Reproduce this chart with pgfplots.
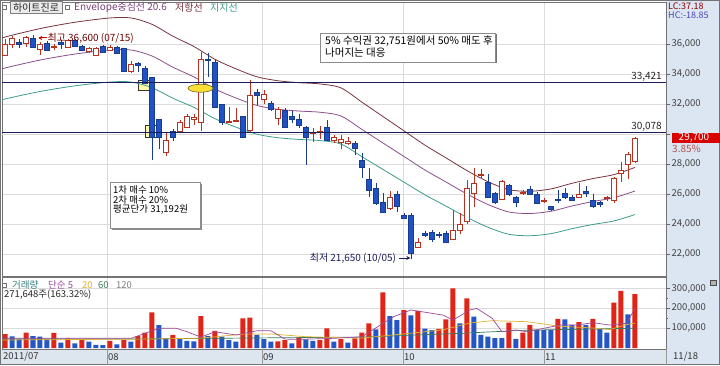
\documentclass[border=0pt]{standalone}
\usepackage{fontspec}
\setmainfont{Noto Sans CJK KR}
\usepackage{pgfplots}
\usepackage{pgfplotstable}
\pgfplotsset{compat=1.18}
\usetikzlibrary{arrows.meta}

\definecolor{cred}{HTML}{B8321F}
\definecolor{cblue}{HTML}{1F52C4}
\definecolor{cbluedk}{HTML}{1A3C8F}
\definecolor{vred}{HTML}{E02418}
\definecolor{vblue}{HTML}{2457C5}
\definecolor{panel}{HTML}{DCE6F2}
\definecolor{strip}{HTML}{DDE5EF}
\definecolor{navy}{HTML}{1C1C5C}
\definecolor{envup}{HTML}{7A3340}
\definecolor{envmid}{HTML}{8E4E8E}
\definecolor{envlo}{HTML}{3E9C8C}
\definecolor{ma5}{HTML}{9A4A9A}
\definecolor{ma20}{HTML}{E0B030}
\definecolor{ma60}{HTML}{3A7A5A}

\pgfplotstableread{
i o h l c
0 35250 36300 35200 35950
1 35950 36500 35700 36400
2 36100 36300 35750 36000
3 36050 36550 35800 36450
4 36400 36600 35700 35800
5 35650 36100 35250 35950
6 36050 36200 35500 35600
7 35750 36000 35600 35850
8 36100 36250 35650 35950
9 35800 36300 35750 36250
10 36250 36300 35800 35850
11 35850 35950 35500 35600
12 35500 35800 35400 35700
13 35250 35800 35200 35700
14 35850 35950 35400 35450
15 35550 35900 35500 35800
16 35750 35850 35350 35400
17 35700 35750 34100 34150
18 34150 34850 34050 34650
19 34700 34800 34100 34550
20 34400 34500 33350 33400
21 33750 33800 28250 29800
22 30950 31000 29000 29800
23 28800 30100 28500 29600
24 30150 30300 29500 29750
25 30150 30900 30050 30800
26 30450 31300 30400 31200
27 31000 31300 30600 31100
28 30800 35450 30200 34950
29 35000 35400 33800 34900
30 34800 34950 31700 31750
31 31950 32000 30600 30750
32 30800 31800 30700 30850
33 30850 31700 30800 30900
34 31150 31200 29700 29800
35 30250 33600 30100 32600
36 32800 33000 31900 32600
37 32300 32900 32000 32650
38 32050 32200 31550 31650
39 31050 31800 30600 31650
40 31550 31700 30400 30450
41 31150 31500 30750 30950
42 30950 31300 30400 30550
43 30450 30500 27950 29750
44 30050 30400 29450 30100
45 30100 30500 29650 30150
46 30450 30950 29500 29600
47 29600 29900 29400 29800
48 29450 29950 29000 29650
49 29400 29800 29250 29500
50 29400 29500 28600 29050
51 28250 28700 27050 27800
52 26950 27700 25800 26250
53 26400 26700 25250 25400
54 25450 26050 24750 24800
55 25050 26200 24950 25750
56 25950 26200 24800 25150
57 24600 24700 24350 24400
58 24600 24700 21650 22050
59 22450 23050 22400 22750
60 23400 23550 23100 23250
61 23450 23600 22800 22950
62 23300 23450 23050 23250
63 23400 23500 22700 22800
64 23000 24950 22900 23600
65 23600 24700 23300 24000
66 24150 26950 24000 26350
67 26050 27700 25150 26700
68 27250 27650 27000 27300
69 26800 27300 25750 25800
70 26050 26150 25300 25450
71 25650 26950 25600 26850
72 26600 26650 25850 25950
73 25750 25850 25150 25450
74 26050 26250 25950 26100
75 26300 26550 25900 26000
76 26000 26100 25300 25400
77 25500 25750 25400 25550
78 25150 25200 24850 24950
79 25650 26250 25400 25550
80 26050 26400 25650 25800
81 25800 25900 25500 25600
82 25800 26750 25750 26000
83 26150 26550 25800 26050
84 25600 26000 25050 25150
85 25450 25550 25100 25300
86 25700 25850 25500 25750
87 25600 27100 25400 27050
88 27350 28150 26800 27600
89 27950 28800 27000 28650
90 28150 29800 28050 29700
}\cdl

\pgfplotstableread{
i c u l
-0.43 34300 36358 32242
0 34400 36464 32336
5 34930 37026 32834
10 35330 37450 33210
15 35600 37736 33464
18 35600 37736 33464
21 35200 37312 33088
24 34450 36517 32383
27 33800 35828 31772
30 33000 34980 31020
33 32400 34344 30456
36 31900 33814 29986
39 31650 33549 29751
42 31530 33422 29638
45 31450 33337 29563
48 31200 33072 29328
51 30300 32118 28482
54 29400 31164 27636
57 28500 30210 26790
60 27600 29256 25944
63 26800 28408 25192
66 26000 27560 24440
69 25300 26818 23782
72 24800 26288 23312
75 24700 26182 23218
78 24850 26341 23359
81 25200 26712 23688
84 25500 27030 23970
87 25750 27295 24205
90 26200 27772 24628
}\env

\pgfplotstableread{
i v
0 70700
3 77500
7 75800
9 48800
11 40400
15 35400
17 40400
19 60600
20 77500
21 180000
24 65700
28 161600
30 85900
34 149700
35 153200
39 34000
40 40400
42 53900
45 40400
46 99300
48 45000
50 48800
51 77500
52 124600
54 281000
57 191900
59 186900
62 96000
63 144800
64 301300
66 250800
72 127900
74 77500
75 116200
79 146500
82 131300
84 146500
87 228900
88 287900
90 271648
}\vred

\pgfplotstableread{
i v
1 59000
2 43800
4 60600
5 57200
6 43800
8 26900
10 23600
12 32000
13 15200
14 14000
16 18500
18 32000
22 116000
23 48800
25 48800
26 35400
27 33000
29 60600
31 57200
32 40400
33 32000
36 65700
37 45000
38 32000
41 23600
43 43800
44 35400
47 32000
49 26900
53 94300
55 161600
56 141400
58 165000
60 97600
61 90900
65 124600
67 158200
68 65700
69 57200
70 50500
71 50500
73 45500
76 90900
77 90900
78 90900
80 144800
81 116200
83 116200
85 97600
86 77500
89 170000
}\vblue

\pgfplotstableread{
i v
-0.43 48800
9 48800
18 48800
22 99300
24.5 99300
26 82000
28 55000
30 82000
33 65700
36 87000
38 87000
40 45000
42 43800
47 48800
51 57200
55.5 158000
58 192000
62.6 166000
64 141000
66.4 192000
67.4 200000
69.6 150000
71 82000
73 90900
74.5 82000
79.3 116000
81.7 116000
84 128000
86.4 116000
88.8 124600
90 200000
}\mafive

\pgfplotstableread{
i v
-0.43 40400
20 45000
28 50000
34 70000
38 71000
43 57000
51 50000
58 75000
62.6 92000
66.4 126000
69.6 138000
74.5 133000
79.3 110000
84 101000
86.4 93000
88.8 118000
90 126000
}\matwenty

\pgfplotstableread{
i v
-0.43 45000
20 46000
40 52000
51 55000
65 74000
74.5 90000
88.8 99000
90 100000
}\masixty

\begin{document}
\begin{tikzpicture}[font=\fontsize{10}{11}\selectfont]
\useasboundingbox (0,0) rectangle (720pt,365pt);
\begin{scope}[x=1pt,y=1pt]
\fill[white] (0,0) rectangle (720,365);
\fill[panel] (666,0) rectangle (720,365);
\fill[strip] (0,0) rectangle (666,16);
\end{scope}

% ---------------- price panel
\begin{axis}[
  at={(2pt,89pt)}, anchor=south west, scale only axis,
  width=664pt, height=274pt,
  xmin=-0.4286, xmax=94.43, ymin=20533, ymax=38800,
  axis line style={draw=black!55, line width=0.6pt},
  xtick={14.57,36.71,56.86,77}, xticklabels={}, xtick style={draw=none},
  xmajorgrids, ymajorgrids,
  major grid style={draw=black!14, line width=0.5pt},
  ytick={22000,24000,26000,28000,32000,34000,36000},
  extra y ticks={30000}, extra y tick labels={},
  extra y tick style={grid=major},
  ytick pos=right, yticklabel pos=right,
  minor y tick num=3,
  tick align=outside, major tick length=4pt, minor tick length=2pt,
  ytick style={draw=black!60, line width=0.5pt},
  yticklabel style={/pgf/number format/.cd, fixed, 1000 sep={,}, assume math mode=true},
  scaled y ticks=false,
  tick label style={font=\fontsize{9.5}{9.5}\selectfont, text=black!75, inner sep=1.5pt},
  no markers, clip=true,
  wickup/.style={draw=cred, line width=0.8pt},
  wickdn/.style={draw=cbluedk, line width=0.8pt},
  bodyup/.style={draw=cred, fill=white, line width=0.8pt},
  bodydn/.style={draw=cbluedk, fill=cblue, line width=0.5pt},
]
% yellow boxes
\draw[fill=yellow!35, draw=black!80, line width=0.6pt] (axis cs:19.1,33600) rectangle (axis cs:20.9,32930);
\draw[fill=yellow!35, draw=black!80, line width=0.6pt] (axis cs:20.05,30600) rectangle (axis cs:21.95,29780);
% envelope lines
\addplot[envup, line width=0.8pt, smooth] table[x=i, y=u] {\env};
\addplot[envmid, line width=0.8pt, smooth] table[x=i, y=c] {\env};
\addplot[envlo, line width=0.8pt, smooth] table[x=i, y=l] {\env};
% candles
\pgfplotsinvokeforeach{0,...,90}{%
  \pgfplotstablegetelem{#1}{o}\of\cdl\edef\vo{\pgfplotsretval}%
  \pgfplotstablegetelem{#1}{h}\of\cdl\edef\vh{\pgfplotsretval}%
  \pgfplotstablegetelem{#1}{l}\of\cdl\edef\vl{\pgfplotsretval}%
  \pgfplotstablegetelem{#1}{c}\of\cdl\edef\vc{\pgfplotsretval}%
  \pgfmathsetmacro\xa{#1-0.36}%
  \pgfmathsetmacro\xb{#1+0.36}%
  \ifnum\vc<\vo\relax\def\cstyle{dn}\else\def\cstyle{up}\fi
  \edef\temp{\noexpand\addplot[wick\cstyle] coordinates {(#1,\vl) (#1,\vh)};
    \noexpand\addplot[body\cstyle] coordinates {(\xa,\vo) (\xb,\vo) (\xb,\vc) (\xa,\vc)} --cycle;}%
  \temp
}
% level lines
\addplot[navy, line width=0.9pt] coordinates {(-0.43,33421) (94.43,33421)};
\addplot[navy, line width=0.9pt] coordinates {(-0.43,30078) (94.43,30078)};
\node[anchor=south east, inner sep=1pt, text=black!85] at (axis cs:94.0,33421) {33,421};
\node[anchor=south east, inner sep=1pt, text=black!85] at (axis cs:94.0,30078) {30,078};
% ellipse
\draw[fill=yellow!75!orange!80, draw=olive!70!black, line width=0.6pt] (axis cs:27.93,33050) ellipse [x radius=12.5pt, y radius=4pt];
% high / low annotations
\draw[-{Stealth[length=4pt,width=4pt]}, red!80!black, line width=1pt] (axis cs:6.0,36400) -- (axis cs:4.75,36400);
\node[anchor=west, inner sep=0pt, text=red!45!black] at (axis cs:6.05,36400) {최고 36,600 (07/15)};
\node[anchor=east, inner sep=0pt, text=navy] at (axis cs:55.9,21733) {최저 21,650 (10/05)};
\draw[-{Stealth[length=4pt,width=4pt]}, navy, line width=1pt] (axis cs:56.3,21733) -- (axis cs:57.9,21733);
\end{axis}

% ---------------- volume panel
\begin{axis}[
  at={(2pt,16pt)}, anchor=south west, scale only axis,
  width=664pt, height=72pt,
  xmin=-0.4286, xmax=94.43, ymin=-5050, ymax=358550,
  axis line style={draw=black!55, line width=0.6pt},
  xtick={14.57,36.71,56.86,77}, xticklabels={}, xtick style={draw=none},
  xmajorgrids, ymajorgrids,
  major grid style={draw=black!14, line width=0.5pt},
  ytick={100000,200000,300000},
  ytick pos=right, yticklabel pos=right,
  minor y tick num=1,
  tick align=outside, major tick length=4pt, minor tick length=2pt,
  ytick style={draw=black!60, line width=0.5pt},
  yticklabel style={/pgf/number format/.cd, fixed, 1000 sep={,}, assume math mode=true},
  scaled y ticks=false,
  tick label style={font=\fontsize{9.5}{9.5}\selectfont, text=black!75, inner sep=1.5pt},
  no markers, clip=true,
]
\addplot[ybar, bar width=5pt, bar shift=0pt, fill=vred, draw=none] table[x=i, y=v] {\vred};
\addplot[ybar, bar width=5pt, bar shift=0pt, fill=vblue, draw=none] table[x=i, y=v] {\vblue};
\addplot[ma60, line width=0.7pt] table[x=i, y=v] {\masixty};
\addplot[ma20, line width=0.7pt] table[x=i, y=v] {\matwenty};
\addplot[ma5, line width=0.7pt] table[x=i, y=v] {\mafive};
\end{axis}

% ---------------- decorations
\begin{scope}[x=1pt,y=1pt]
\draw[black!55, line width=0.6pt] (0.5,0.5) rectangle (719.5,364.5);
\draw[black!40, line width=0.5pt] (666,0) -- (666,16);
\foreach \xx in {107,262,403,544} \draw[black!40, line width=0.5pt] (\xx,0) -- (\xx,16);
\begin{scope}[font=\fontsize{9.5}{10}\selectfont]
\node[anchor=west, inner sep=0pt, text=black!80] at (3,8) {2011/07};
\node[anchor=west, inner sep=0pt, text=black!80] at (108,8) {08};
\node[anchor=west, inner sep=0pt, text=black!80] at (263,8) {09};
\node[anchor=west, inner sep=0pt, text=black!80] at (404,8) {10};
\node[anchor=west, inner sep=0pt, text=black!80] at (545,8) {11};
\node[anchor=west, inner sep=0pt, text=black!80] at (673,8) {11/18};
\end{scope}
% header
\draw[black!55, fill=white, line width=0.5pt] (2.5,355.5) rectangle (6.5,359.5);
\draw[black!50, fill=black!8, line width=0.5pt] (10,352) rectangle (62,363.5);
\node[inner sep=0pt, text=black!85] at (36,357.6) {하이트진로};
\draw[black!55, fill=white, line width=0.5pt] (65.5,355.5) rectangle (69.5,359.5);
\node[anchor=west, inner sep=0pt, text=envmid!85!black] at (74,357.6) {Envelope중심선 20.6};
\node[anchor=west, inner sep=0pt, text=envup] at (175,357.6) {저항선};
\node[anchor=west, inner sep=0pt, text=envlo] at (210,357.6) {지지선};
\node[anchor=west, inner sep=0pt, text=red!55!black, font=\fontsize{9}{9}\selectfont] at (668,359) {LC:37.18};
\node[anchor=west, inner sep=0pt, text=blue!45!gray, font=\fontsize{9}{9}\selectfont] at (668,350) {HC:-18.85};
% price tag
\fill[red!85!black] (672,222) rectangle (720,232.5);
\node[text=white, inner sep=0pt] at (694,227.2) {29,700};
\node[anchor=west, inner sep=0pt, text=red!35!gray] at (672,216) {3.85\%};
% text box 1
\fill[black!55] (322,301.5) rectangle (497,330.5);
\draw[fill=white, draw=black!45, line width=0.6pt] (320,303) rectangle (495,332);
\begin{scope}[font=\fontsize{10.5}{11}\selectfont]
\node[anchor=west, inner sep=0pt] at (325,323.5) {5\% 수익권 32,751원에서 50\% 매도 후};
\node[anchor=west, inner sep=0pt] at (325,312.5) {나머지는 대응};
\end{scope}
% text box 2
\fill[black!45] (112,135.5) rectangle (202,181.5);
\draw[fill=white, draw=black!45, line width=0.6pt] (110,137) rectangle (200,183);
\begin{scope}[font=\fontsize{9.5}{10}\selectfont]
\node[anchor=west, inner sep=0pt] at (113,175) {1차 매수 10\%};
\node[anchor=west, inner sep=0pt] at (113,165.1) {2차 매수 20\%};
\node[anchor=west, inner sep=0pt] at (113,155.2) {평균단가 31,192원};
\end{scope}
% volume header
\draw[black!55, fill=white, line width=0.5pt] (2.5,78) rectangle (6.5,82);
\begin{scope}[font=\fontsize{9.5}{10}\selectfont]
\node[anchor=west, inner sep=0pt, text=teal!60!gray] at (12,80) {거래량};
\node[anchor=west, inner sep=0pt, text=ma5] at (48,80) {단순 5};
\node[anchor=west, inner sep=0pt, text=ma20] at (82,80) {20};
\node[anchor=west, inner sep=0pt, text=ma60] at (98,80) {60};
\node[anchor=west, inner sep=0pt, text=gray] at (116,80) {120};
\node[anchor=west, inner sep=0pt, text=black!85] at (4,70) {271,648주(163.32\%)};
\end{scope}
\draw[black!70, fill=black!30, line width=0.5pt] (710.5,79.5) rectangle (716.5,85);
\end{scope}
\end{tikzpicture}
\end{document}
